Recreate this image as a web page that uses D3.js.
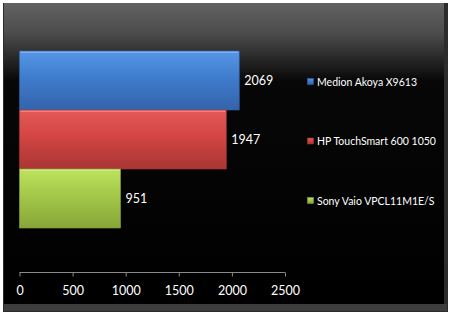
<!doctype html>
<html lang="en">
<head>
<meta charset="utf-8">
<title>Benchmark</title>
<style>
  body { margin: 0; background: #fff; font-family: Lato, "Open Sans", sans-serif; }
</style>
</head>
<body>
<script src="https://cdn.jsdelivr.net/npm/d3@7/dist/d3.min.js"></script>
<script>
  // data
  var names = ["Medion Akoya X9613", "HP TouchSmart 600 1050", "Sony Vaio VPCL11M1E/S"];
  var scores = [2069, 1947, 951];
  var ticks = [0, 500, 1000, 1500, 2000, 2500];
  var colors = [
    ["#5796e6", "#3f7ccd", "#3463ab"],
    ["#e45a58", "#d24543", "#a93634"],
    ["#bde35e", "#a3c84a", "#87a538"]
  ];

  var W = 451, H = 315;
  var svg = d3.select("body").append("svg")
    .attr("width", W).attr("height", H);

  var defs = svg.append("defs");

  var bg = defs.append("linearGradient").attr("id", "bg")
    .attr("x1", 0).attr("y1", 0).attr("x2", 0).attr("y2", 1);
  bg.append("stop").attr("offset", "0%").attr("stop-color", "#626262");
  bg.append("stop").attr("offset", "10%").attr("stop-color", "#4c4c4c");
  bg.append("stop").attr("offset", "26%").attr("stop-color", "#070707");
  bg.append("stop").attr("offset", "100%").attr("stop-color", "#000");

  colors.forEach(function (c, i) {
    var g = defs.append("linearGradient").attr("id", "bar" + i)
      .attr("x1", 0).attr("y1", 0).attr("x2", 0).attr("y2", 1);
    g.append("stop").attr("offset", "0%").attr("stop-color", c[0]);
    g.append("stop").attr("offset", "45%").attr("stop-color", c[1]);
    g.append("stop").attr("offset", "100%").attr("stop-color", c[2]);
  });

  // frame with a soft bevel at bottom / right
  svg.append("rect").attr("x", 3).attr("y", 3).attr("width", 445).attr("height", 309)
    .attr("fill", "#2c2c2c");
  svg.append("rect").attr("x", 4).attr("y", 304).attr("width", 443).attr("height", 7)
    .attr("fill", "#3d3d3d");
  svg.append("rect").attr("x", 4).attr("y", 3).attr("width", 440).attr("height", 301)
    .attr("fill", "url(#bg)");

  var x = d3.scaleLinear().domain([0, 2500]).range([19.5, 285]);
  var y = d3.scaleBand().domain(names).range([51, 228]).padding(0);

  var g = svg.append("g");

  g.selectAll(".bar")
    .data(scores)
    .join("rect")
    .attr("class", "bar")
    .attr("x", x(0))
    .attr("y", function (d, i) { return y(names[i]); })
    .attr("width", function (d) { return x(d) - x(0); })
    .attr("height", y.bandwidth())
    .attr("fill", function (d, i) { return "url(#bar" + i + ")"; })
    .attr("stroke", function (d, i) { return colors[i][2]; })
    .attr("stroke-width", 0.6);

  // thin highlight on top edge
  g.selectAll(".hl")
    .data(scores)
    .join("rect")
    .attr("class", "hl")
    .attr("x", x(0) + 1)
    .attr("y", function (d, i) { return y(names[i]) + 0.5; })
    .attr("width", function (d) { return x(d) - x(0) - 2; })
    .attr("height", 1.5)
    .attr("fill", "#fff")
    .attr("opacity", 0.25);

  g.selectAll(".val")
    .data(scores)
    .join("text")
    .attr("class", "val")
    .attr("x", function (d) { return x(d) + 5; })
    .attr("y", function (d, i) { return y(names[i]) + y.bandwidth() / 2; })
    .attr("dy", "0.35em")
    .attr("fill", "#fff")
    .attr("font-size", "12.5px")
    .text(function (d) { return d; });

  // axis
  var axis = d3.axisBottom(x).tickValues(ticks).tickFormat(d3.format("d"))
    .tickSize(4).tickPadding(10);
  var ag = svg.append("g").attr("transform", "translate(0,272.5)").call(axis);
  ag.select(".domain").attr("stroke", "#8a8a8a").attr("d", "M" + x(0) + ",0H" + x(2500));
  ag.selectAll(".tick line").attr("stroke", "#8a8a8a");
  ag.selectAll(".tick text")
    .attr("fill", "#fff")
    .attr("font-size", "12.5px")
    .attr("font-family", "Lato, sans-serif");

  // legend
  var lg = svg.append("g");
  var ly = [82, 141.5, 201];
  names.forEach(function (n, i) {
    lg.append("rect").attr("x", 307.5).attr("y", ly[i] - 3.5)
      .attr("width", 6).attr("height", 6)
      .attr("fill", "url(#bar" + i + ")")
      .attr("stroke", colors[i][2]).attr("stroke-width", 0.5);
    lg.append("text").attr("x", 317).attr("y", ly[i])
      .attr("dy", "0.35em")
      .attr("fill", "#fff")
      .attr("font-size", "10.5px")
      .text(n);
  });
</script>
</body>
</html>
